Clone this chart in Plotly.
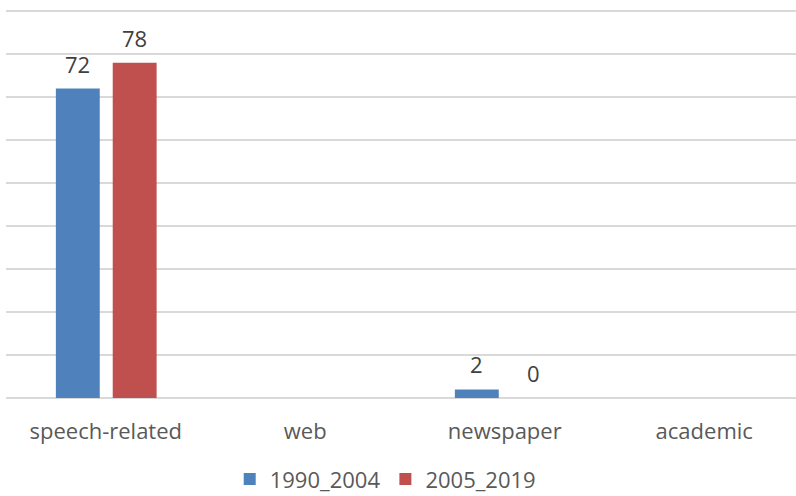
import plotly.graph_objects as go

categories = ["speech-related", "web", "newspaper", "academic"]
series_names = ["1990_2004", "2005_2019"]
values_1990_2004 = [72, None, 2, None]
values_2005_2019 = [78, None, 0, None]

colors = ["#4F81BD", "#C0504D"]
bar_width = 0.22
offsets = [-0.25, 0.035]

W, H = 796, 496
margin = dict(l=6, r=0, t=9, b=98, autoexpand=False)

fig = go.Figure()
x_idx = list(range(len(categories)))
for name, vals, col, off in zip(series_names, [values_1990_2004, values_2005_2019], colors, offsets):
    fig.add_trace(go.Bar(
        x=x_idx, y=vals, name=name, marker=dict(color=col, line=dict(width=0)),
        width=bar_width, offset=off,
    ))
    for xi, v in zip(x_idx, vals):
        if v is None:
            continue
        fig.add_annotation(
            x=xi + off + bar_width / 2, y=v, text=str(v), showarrow=False,
            yanchor="bottom", xanchor="center", yshift=8,
            font=dict(family="Open Sans", size=22, color="#404040"),
        )

fig.update_layout(
    width=W, height=H, margin=margin,
    paper_bgcolor="white", plot_bgcolor="white",
    barmode="overlay",
    font=dict(family="Open Sans", color="#595959"),
    xaxis=dict(
        range=[-0.5, 3.46], tickvals=x_idx, ticktext=categories,
        tickfont=dict(size=22, color="#595959"), showgrid=False,
        zeroline=False, showline=False, ticks="", ticklabelstandoff=18,
        fixedrange=True, automargin=False,
    ),
    yaxis=dict(
        range=[0, 90.5], dtick=10, showticklabels=False,
        gridcolor="#D9D9D9", gridwidth=2,
        zeroline=True, zerolinecolor="#D9D9D9", zerolinewidth=2,
        showline=False, automargin=False,
    ),
    legend=dict(
        orientation="h", x=0.48, xanchor="center", y=-0.155, yanchor="top",
        font=dict(size=22, color="#595959"), itemwidth=30,
        traceorder="normal",
    ),
)

fig.write_html("out.html")
